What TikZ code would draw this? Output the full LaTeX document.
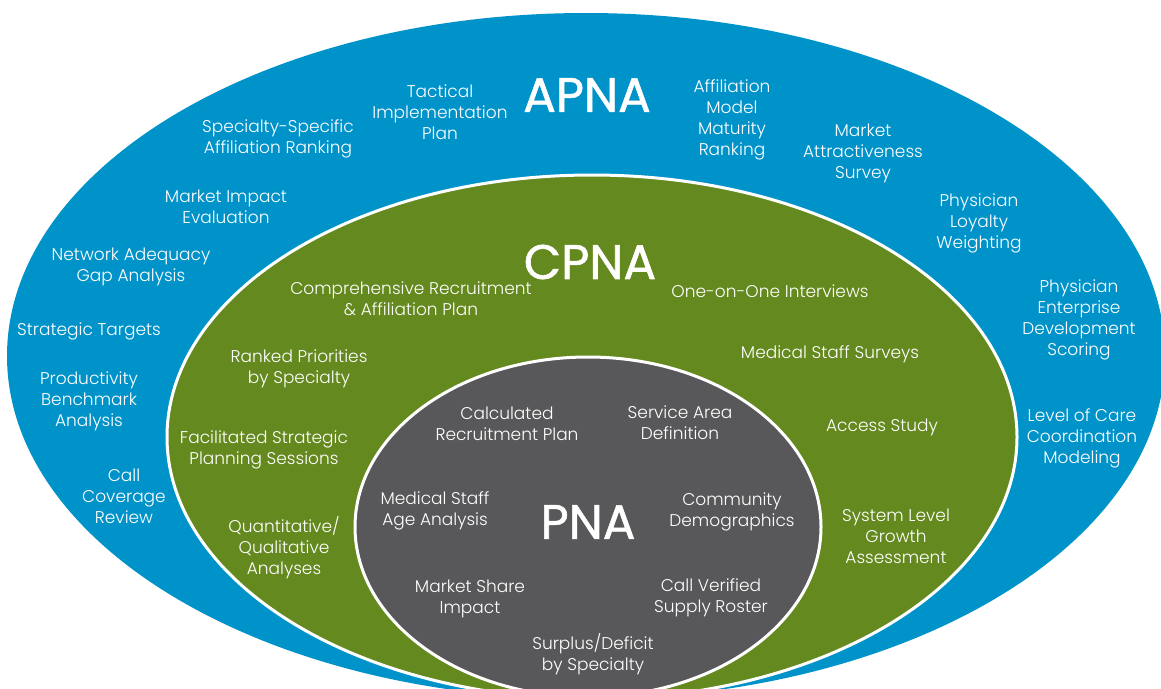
\documentclass[tikz,border=0pt]{standalone}
\usepackage{fontspec}
\setmainfont{Poppins}[UprightFont=* Light]
\newfontfamily\ringtitlefont{Poppins}[FakeBold=1.2]
\usetikzlibrary{shapes.geometric}
\definecolor{apnablue}{RGB}{0,147,201}
\definecolor{cpnagreen}{RGB}{100,137,30}
\definecolor{pnagray}{RGB}{88,88,90}
\begin{document}
\begin{tikzpicture}[x=1pt,y=-1pt,
  ring/.style={ellipse, draw=white, line width=3pt, inner sep=0pt, outer sep=0pt},
  lbl/.style={text=white, align=center, inner sep=0pt,
    font=\fontsize{17}{21}\selectfont,
    execute at begin node={\rule{0pt}{13pt}},
    execute at end node={\rule[-4pt]{0pt}{4pt}}},
  ttl/.style={text=white, inner sep=0pt, font=\ringtitlefont\fontsize{48.5}{50}\selectfont}]
\useasboundingbox (0,0) rectangle (1161,688);
\clip (0,0) rectangle (1161,688);

% nested rings
\node[ring, fill=apnablue, draw=none, minimum width=1158pt, minimum height=686pt] (apna) at (586,356) {};
\node[ring, fill=cpnagreen, minimum width=850pt, minimum height=524pt] (cpna) at (592,437) {};
\node[ring, fill=pnagray, minimum width=466pt, minimum height=340pt] (pna) at (588,527) {};

% titles
\node[ttl] (tA) at (587,95) {APNA};
\node[ttl] (tC) at (590,262) {CPNA};
\node[ttl] (tP) at (588,522) {PNA};

% APNA ring
\node[lbl] (a1) at (440,114) {Tactical\\Implementation\\Plan};
\node[lbl] (a2) at (732,119.5) {Affiliation\\Model\\Maturity\\Ranking};
\node[lbl] (a3) at (278,138.5) {Specialty-Specific\\Affiliation Ranking};
\node[lbl] (a4) at (863,153) {Market\\Attractiveness\\Survey};
\node[lbl] (a5) at (226,208.5) {Market Impact\\Evaluation};
\node[lbl] (a6) at (979,223) {Physician\\Loyalty\\Weighting};
\node[lbl] (a7) at (131,266.5) {Network Adequacy\\Gap Analysis};
\node[lbl] (a8) at (1079,319.5) {Physician\\Enterprise\\Development\\Scoring};
\node[lbl] (a9) at (89,331) {Strategic Targets};
\node[lbl] (a10) at (89,401) {Productivity\\Benchmark\\Analysis};
\node[lbl] (a11) at (1082,438) {Level of Care\\Coordination\\Modeling};
\node[lbl] (a12) at (124,498) {Call\\Coverage\\Review};

% CPNA ring
\node[lbl] (c1) at (411,300.5) {Comprehensive Recruitment\\\& Affiliation Plan};
\node[lbl] (c2) at (770,293) {One-on-One Interviews};
\node[lbl] (c3) at (299,368.5) {Ranked Priorities\\by Specialty};
\node[lbl] (c4) at (830,354) {Medical Staff Surveys};
\node[lbl] (c5) at (264,449.5) {Facilitated Strategic\\Planning Sessions};
\node[lbl] (c6) at (882,427) {Access Study};
\node[lbl] (c7) at (284,548) {Quantitative/\\Qualitative\\Analyses};
\node[lbl] (c8) at (896,538) {System Level\\Growth\\Assessment};

% PNA core
\node[lbl] (p1) at (507,425.5) {Calculated\\Recruitment Plan};
\node[lbl] (p2) at (680,424.5) {Service Area\\Definition};
\node[lbl] (p3) at (435,510.5) {Medical Staff\\Age Analysis};
\node[lbl] (p4) at (732,511.5) {Community\\Demographics};
\node[lbl] (p5) at (470,598.5) {Market Share\\Impact};
\node[lbl] (p6) at (711,597.5) {Call Verified\\Supply Roster};
\node[lbl] (p7) at (593,654.5) {Surplus/Deficit\\by Specialty};
\end{tikzpicture}
\end{document}
